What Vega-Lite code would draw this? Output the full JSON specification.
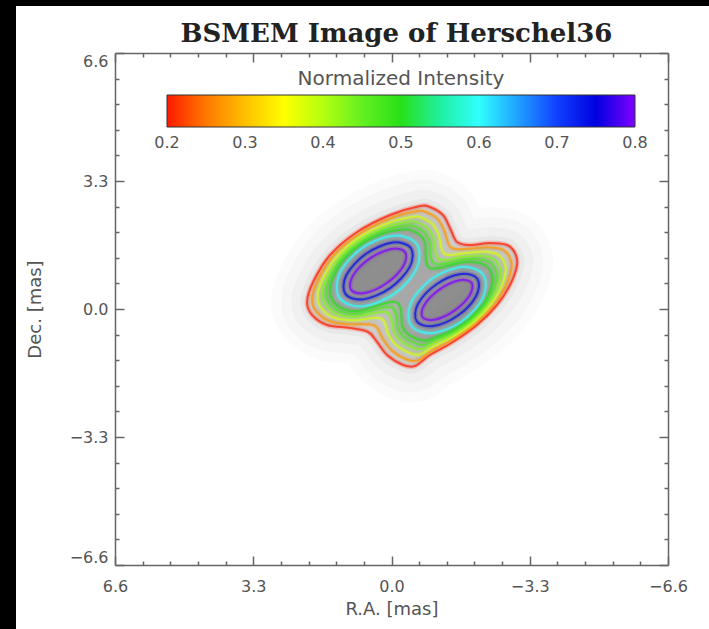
{
  "$schema": "https://vega.github.io/schema/vega-lite/v6.json",
  "width": 553,
  "height": 512,
  "autosize": {"type": "none"},
  "padding": {"left": 115, "top": 53, "right": 41, "bottom": 64},
  "background": "black",
  "title": {
    "text": "BSMEM Image of Herschel36",
    "frame": "group",
    "font": "DejaVu Serif",
    "fontSize": 26,
    "fontWeight": "bold",
    "color": "#222222",
    "anchor": "middle",
    "baseline": "alphabetic",
    "offset": 10,
    "dy": 72,
    "dx": 5
  },
  "datasets": {
    "contours": [
      {"c":"r","lv":0.2,"i":1,"x":-0.681,"y":2.655},{"c":"r","lv":0.2,"i":2,"x":-0.920,"y":2.630},{"c":"r","lv":0.2,"i":3,"x":-1.230,"y":2.423},{"c":"r","lv":0.2,"i":4,"x":-1.397,"y":2.088},
      {"c":"r","lv":0.2,"i":5,"x":-1.565,"y":1.727},{"c":"r","lv":0.2,"i":6,"x":-1.875,"y":1.650},{"c":"r","lv":0.2,"i":7,"x":-2.352,"y":1.702},{"c":"r","lv":0.2,"i":8,"x":-2.758,"y":1.650},
      {"c":"r","lv":0.2,"i":9,"x":-2.949,"y":1.444},{"c":"r","lv":0.2,"i":10,"x":-2.997,"y":1.134},{"c":"r","lv":0.2,"i":11,"x":-2.830,"y":0.619},{"c":"r","lv":0.2,"i":12,"x":-2.519,"y":0.103},
      {"c":"r","lv":0.2,"i":13,"x":-2.042,"y":-0.413},{"c":"r","lv":0.2,"i":14,"x":-1.469,"y":-0.851},{"c":"r","lv":0.2,"i":15,"x":-0.920,"y":-1.186},{"c":"r","lv":0.2,"i":16,"x":-0.562,"y":-1.470},
      {"c":"r","lv":0.2,"i":17,"x":-0.275,"y":-1.444},{"c":"r","lv":0.2,"i":18,"x":0.107,"y":-1.186},{"c":"r","lv":0.2,"i":19,"x":0.345,"y":-0.851},{"c":"r","lv":0.2,"i":20,"x":0.560,"y":-0.593},
      {"c":"r","lv":0.2,"i":21,"x":0.990,"y":-0.490},{"c":"r","lv":0.2,"i":22,"x":1.539,"y":-0.413},{"c":"r","lv":0.2,"i":23,"x":1.897,"y":-0.155},{"c":"r","lv":0.2,"i":24,"x":2.016,"y":0.180},
      {"c":"r","lv":0.2,"i":25,"x":1.873,"y":0.696},{"c":"r","lv":0.2,"i":26,"x":1.467,"y":1.392},{"c":"r","lv":0.2,"i":27,"x":0.823,"y":1.985},{"c":"r","lv":0.2,"i":28,"x":0.035,"y":2.423},

      {"c":"o","lv":0.27,"i":1,"x":-0.603,"y":2.524},{"c":"o","lv":0.27,"i":2,"x":-0.821,"y":2.500},{"c":"o","lv":0.27,"i":3,"x":-1.109,"y":2.311},{"c":"o","lv":0.27,"i":4,"x":-1.268,"y":2.005},
      {"c":"o","lv":0.27,"i":5,"x":-1.423,"y":1.582},{"c":"o","lv":0.27,"i":6,"x":-1.837,"y":1.553},{"c":"o","lv":0.27,"i":7,"x":-2.277,"y":1.594},{"c":"o","lv":0.27,"i":8,"x":-2.644,"y":1.537},
      {"c":"o","lv":0.27,"i":9,"x":-2.819,"y":1.349},{"c":"o","lv":0.27,"i":10,"x":-2.869,"y":1.065},{"c":"o","lv":0.27,"i":11,"x":-2.729,"y":0.594},{"c":"o","lv":0.27,"i":12,"x":-2.449,"y":0.110},
      {"c":"o","lv":0.27,"i":13,"x":-2.003,"y":-0.378},{"c":"o","lv":0.27,"i":14,"x":-1.461,"y":-0.788},{"c":"o","lv":0.27,"i":15,"x":-0.948,"y":-1.086},{"c":"o","lv":0.27,"i":16,"x":-0.627,"y":-1.325},
      {"c":"o","lv":0.27,"i":17,"x":-0.364,"y":-1.303},{"c":"o","lv":0.27,"i":18,"x":-0.007,"y":-1.073},{"c":"o","lv":0.27,"i":19,"x":0.213,"y":-0.765},{"c":"o","lv":0.27,"i":20,"x":0.414,"y":-0.426},
      {"c":"o","lv":0.27,"i":21,"x":0.947,"y":-0.395},{"c":"o","lv":0.27,"i":22,"x":1.459,"y":-0.321},{"c":"o","lv":0.27,"i":23,"x":1.788,"y":-0.077},{"c":"o","lv":0.27,"i":24,"x":1.897,"y":0.236},
      {"c":"o","lv":0.27,"i":25,"x":1.772,"y":0.714},{"c":"o","lv":0.27,"i":26,"x":1.395,"y":1.366},{"c":"o","lv":0.27,"i":27,"x":0.792,"y":1.923},{"c":"o","lv":0.27,"i":28,"x":0.055,"y":2.326},

      {"c":"y","lv":0.38,"i":1,"x":-0.517,"y":2.379},{"c":"y","lv":0.38,"i":2,"x":-0.711,"y":2.354},{"c":"y","lv":0.38,"i":3,"x":-0.975,"y":2.185},{"c":"y","lv":0.38,"i":4,"x":-1.124,"y":1.912},
      {"c":"y","lv":0.38,"i":5,"x":-1.264,"y":1.421},{"c":"y","lv":0.38,"i":6,"x":-1.795,"y":1.445},{"c":"y","lv":0.38,"i":7,"x":-2.192,"y":1.474},{"c":"y","lv":0.38,"i":8,"x":-2.516,"y":1.411},
      {"c":"y","lv":0.38,"i":9,"x":-2.674,"y":1.243},{"c":"y","lv":0.38,"i":10,"x":-2.726,"y":0.988},{"c":"y","lv":0.38,"i":11,"x":-2.617,"y":0.565},{"c":"y","lv":0.38,"i":12,"x":-2.370,"y":0.119},
      {"c":"y","lv":0.38,"i":13,"x":-1.958,"y":-0.340},{"c":"y","lv":0.38,"i":14,"x":-1.452,"y":-0.718},{"c":"y","lv":0.38,"i":15,"x":-0.980,"y":-0.974},{"c":"y","lv":0.38,"i":16,"x":-0.700,"y":-1.164},
      {"c":"y","lv":0.38,"i":17,"x":-0.463,"y":-1.145},{"c":"y","lv":0.38,"i":18,"x":-0.135,"y":-0.947},{"c":"y","lv":0.38,"i":19,"x":0.066,"y":-0.670},{"c":"y","lv":0.38,"i":20,"x":0.251,"y":-0.240},
      {"c":"y","lv":0.38,"i":21,"x":0.899,"y":-0.289},{"c":"y","lv":0.38,"i":22,"x":1.369,"y":-0.218},{"c":"y","lv":0.38,"i":23,"x":1.666,"y":0.011},{"c":"y","lv":0.38,"i":24,"x":1.764,"y":0.299},
      {"c":"y","lv":0.38,"i":25,"x":1.659,"y":0.735},{"c":"y","lv":0.38,"i":26,"x":1.314,"y":1.337},{"c":"y","lv":0.38,"i":27,"x":0.758,"y":1.853},{"c":"y","lv":0.38,"i":28,"x":0.076,"y":2.218},

      {"c":"g1","lv":0.43,"i":1,"x":-0.444,"y":2.256},{"c":"g1","lv":0.43,"i":2,"x":-0.618,"y":2.232},{"c":"g1","lv":0.43,"i":3,"x":-0.861,"y":2.080},{"c":"g1","lv":0.43,"i":4,"x":-1.002,"y":1.833},
      {"c":"g1","lv":0.43,"i":5,"x":-1.130,"y":1.284},{"c":"g1","lv":0.43,"i":6,"x":-1.760,"y":1.354},{"c":"g1","lv":0.43,"i":7,"x":-2.121,"y":1.372},{"c":"g1","lv":0.43,"i":8,"x":-2.409,"y":1.305},
      {"c":"g1","lv":0.43,"i":9,"x":-2.552,"y":1.153},{"c":"g1","lv":0.43,"i":10,"x":-2.606,"y":0.923},{"c":"g1","lv":0.43,"i":11,"x":-2.522,"y":0.541},{"c":"g1","lv":0.43,"i":12,"x":-2.304,"y":0.126},
      {"c":"g1","lv":0.43,"i":13,"x":-1.921,"y":-0.307},{"c":"g1","lv":0.43,"i":14,"x":-1.444,"y":-0.659},{"c":"g1","lv":0.43,"i":15,"x":-1.007,"y":-0.880},{"c":"g1","lv":0.43,"i":16,"x":-0.761,"y":-1.027},
      {"c":"g1","lv":0.43,"i":17,"x":-0.547,"y":-1.012},{"c":"g1","lv":0.43,"i":18,"x":-0.242,"y":-0.841},{"c":"g1","lv":0.43,"i":19,"x":-0.059,"y":-0.589},{"c":"g1","lv":0.43,"i":20,"x":0.113,"y":-0.083},
      {"c":"g1","lv":0.43,"i":21,"x":0.858,"y":-0.199},{"c":"g1","lv":0.43,"i":22,"x":1.293,"y":-0.132},{"c":"g1","lv":0.43,"i":23,"x":1.563,"y":0.085},{"c":"g1","lv":0.43,"i":24,"x":1.653,"y":0.352},
      {"c":"g1","lv":0.43,"i":25,"x":1.564,"y":0.752},{"c":"g1","lv":0.43,"i":26,"x":1.246,"y":1.313},{"c":"g1","lv":0.43,"i":27,"x":0.729,"y":1.795},{"c":"g1","lv":0.43,"i":28,"x":0.095,"y":2.127},

      {"c":"g2","lv":0.47,"i":1,"x":-0.385,"y":2.156},{"c":"g2","lv":0.47,"i":2,"x":-0.543,"y":2.132},{"c":"g2","lv":0.47,"i":3,"x":-0.769,"y":1.994},{"c":"g2","lv":0.47,"i":4,"x":-0.904,"y":1.770},
      {"c":"g2","lv":0.47,"i":5,"x":-1.022,"y":1.174},{"c":"g2","lv":0.47,"i":6,"x":-1.731,"y":1.280},{"c":"g2","lv":0.47,"i":7,"x":-2.063,"y":1.290},{"c":"g2","lv":0.47,"i":8,"x":-2.322,"y":1.219},
      {"c":"g2","lv":0.47,"i":9,"x":-2.452,"y":1.081},{"c":"g2","lv":0.47,"i":10,"x":-2.508,"y":0.871},{"c":"g2","lv":0.47,"i":11,"x":-2.445,"y":0.522},{"c":"g2","lv":0.47,"i":12,"x":-2.251,"y":0.132},
      {"c":"g2","lv":0.47,"i":13,"x":-1.891,"y":-0.280},{"c":"g2","lv":0.47,"i":14,"x":-1.438,"y":-0.611},{"c":"g2","lv":0.47,"i":15,"x":-1.029,"y":-0.804},{"c":"g2","lv":0.47,"i":16,"x":-0.810,"y":-0.917},
      {"c":"g2","lv":0.47,"i":17,"x":-0.615,"y":-0.905},{"c":"g2","lv":0.47,"i":18,"x":-0.329,"y":-0.755},{"c":"g2","lv":0.47,"i":19,"x":-0.159,"y":-0.524},{"c":"g2","lv":0.47,"i":20,"x":0.002,"y":0.044},
      {"c":"g2","lv":0.47,"i":21,"x":0.826,"y":-0.127},{"c":"g2","lv":0.47,"i":22,"x":1.232,"y":-0.061},{"c":"g2","lv":0.47,"i":23,"x":1.480,"y":0.145},{"c":"g2","lv":0.47,"i":24,"x":1.562,"y":0.395},
      {"c":"g2","lv":0.47,"i":25,"x":1.487,"y":0.766},{"c":"g2","lv":0.47,"i":26,"x":1.191,"y":1.293},{"c":"g2","lv":0.47,"i":27,"x":0.705,"y":1.747},{"c":"g2","lv":0.47,"i":28,"x":0.110,"y":2.053},

      {"c":"g3","lv":0.5,"i":1,"x":-0.325,"y":2.056},{"c":"g3","lv":0.5,"i":2,"x":-0.468,"y":2.033},{"c":"g3","lv":0.5,"i":3,"x":-0.677,"y":1.908},{"c":"g3","lv":0.5,"i":4,"x":-0.805,"y":1.706},
      {"c":"g3","lv":0.5,"i":5,"x":-0.913,"y":1.063},{"c":"g3","lv":0.5,"i":6,"x":-1.702,"y":1.205},{"c":"g3","lv":0.5,"i":7,"x":-2.006,"y":1.207},{"c":"g3","lv":0.5,"i":8,"x":-2.235,"y":1.133},
      {"c":"g3","lv":0.5,"i":9,"x":-2.353,"y":1.008},{"c":"g3","lv":0.5,"i":10,"x":-2.410,"y":0.818},{"c":"g3","lv":0.5,"i":11,"x":-2.368,"y":0.502},{"c":"g3","lv":0.5,"i":12,"x":-2.197,"y":0.137},
      {"c":"g3","lv":0.5,"i":13,"x":-1.861,"y":-0.254},{"c":"g3","lv":0.5,"i":14,"x":-1.432,"y":-0.563},{"c":"g3","lv":0.5,"i":15,"x":-1.050,"y":-0.727},{"c":"g3","lv":0.5,"i":16,"x":-0.860,"y":-0.806},
      {"c":"g3","lv":0.5,"i":17,"x":-0.683,"y":-0.797},{"c":"g3","lv":0.5,"i":18,"x":-0.416,"y":-0.669},{"c":"g3","lv":0.5,"i":19,"x":-0.260,"y":-0.459},{"c":"g3","lv":0.5,"i":20,"x":-0.110,"y":0.171},
      {"c":"g3","lv":0.5,"i":21,"x":0.793,"y":-0.054},{"c":"g3","lv":0.5,"i":22,"x":1.170,"y":0.009},{"c":"g3","lv":0.5,"i":23,"x":1.396,"y":0.205},{"c":"g3","lv":0.5,"i":24,"x":1.471,"y":0.437},
      {"c":"g3","lv":0.5,"i":25,"x":1.410,"y":0.780},{"c":"g3","lv":0.5,"i":26,"x":1.136,"y":1.273},{"c":"g3","lv":0.5,"i":27,"x":0.682,"y":1.700},{"c":"g3","lv":0.5,"i":28,"x":0.125,"y":1.978},

      {"c":"cL","lv":0.6,"i":1,"x":-0.599,"y":1.675},{"c":"cL","lv":0.6,"i":2,"x":-0.601,"y":1.053},{"c":"cL","lv":0.6,"i":3,"x":-0.063,"y":0.389},{"c":"cL","lv":0.6,"i":4,"x":0.699,"y":0.070},
      {"c":"cL","lv":0.6,"i":5,"x":1.239,"y":0.285},{"c":"cL","lv":0.6,"i":6,"x":1.241,"y":0.907},{"c":"cL","lv":0.6,"i":7,"x":0.703,"y":1.571},{"c":"cL","lv":0.6,"i":8,"x":-0.059,"y":1.890},
      {"c":"bL","lv":0.74,"i":1,"x":-0.462,"y":1.572},{"c":"bL","lv":0.74,"i":2,"x":-0.437,"y":1.085},{"c":"bL","lv":0.74,"i":3,"x":0.032,"y":0.537},{"c":"bL","lv":0.74,"i":4,"x":0.670,"y":0.248},
      {"c":"bL","lv":0.74,"i":5,"x":1.102,"y":0.389},{"c":"bL","lv":0.74,"i":6,"x":1.077,"y":0.875},{"c":"bL","lv":0.74,"i":7,"x":0.608,"y":1.424},{"c":"bL","lv":0.74,"i":8,"x":-0.030,"y":1.712},
      {"c":"pL","lv":0.8,"i":1,"x":-0.325,"y":1.468},{"c":"pL","lv":0.8,"i":2,"x":-0.282,"y":1.101},{"c":"pL","lv":0.8,"i":3,"x":0.115,"y":0.663},{"c":"pL","lv":0.8,"i":4,"x":0.631,"y":0.411},
      {"c":"pL","lv":0.8,"i":5,"x":0.965,"y":0.492},{"c":"pL","lv":0.8,"i":6,"x":0.922,"y":0.859},{"c":"pL","lv":0.8,"i":7,"x":0.525,"y":1.297},{"c":"pL","lv":0.8,"i":8,"x":0.009,"y":1.549},
      {"c":"cR","lv":0.6,"i":1,"x":-2.187,"y":0.883},{"c":"cR","lv":0.6,"i":2,"x":-2.186,"y":0.304},{"c":"cR","lv":0.6,"i":3,"x":-1.682,"y":-0.317},{"c":"cR","lv":0.6,"i":4,"x":-0.969,"y":-0.616},
      {"c":"cR","lv":0.6,"i":5,"x":-0.466,"y":-0.419},{"c":"cR","lv":0.6,"i":6,"x":-0.466,"y":0.160},{"c":"cR","lv":0.6,"i":7,"x":-0.970,"y":0.781},{"c":"cR","lv":0.6,"i":8,"x":-1.683,"y":1.080},
      {"c":"bR","lv":0.74,"i":1,"x":-2.050,"y":0.779},{"c":"bR","lv":0.74,"i":2,"x":-2.022,"y":0.335},{"c":"bR","lv":0.74,"i":3,"x":-1.586,"y":-0.169},{"c":"bR","lv":0.74,"i":4,"x":-0.998,"y":-0.439},
      {"c":"bR","lv":0.74,"i":5,"x":-0.602,"y":-0.315},{"c":"bR","lv":0.74,"i":6,"x":-0.630,"y":0.129},{"c":"bR","lv":0.74,"i":7,"x":-1.066,"y":0.633},{"c":"bR","lv":0.74,"i":8,"x":-1.654,"y":0.903},
      {"c":"pR","lv":0.8,"i":1,"x":-1.913,"y":0.676},{"c":"pR","lv":0.8,"i":2,"x":-1.867,"y":0.352},{"c":"pR","lv":0.8,"i":3,"x":-1.504,"y":-0.043},{"c":"pR","lv":0.8,"i":4,"x":-1.037,"y":-0.276},
      {"c":"pR","lv":0.8,"i":5,"x":-0.739,"y":-0.212},{"c":"pR","lv":0.8,"i":6,"x":-0.785,"y":0.112},{"c":"pR","lv":0.8,"i":7,"x":-1.148,"y":0.507},{"c":"pR","lv":0.8,"i":8,"x":-1.615,"y":0.740}
    ]
  },
  "data": {"name": "contours"},
  "layer": [
    {
      "data": {"values": [{}]},
      "mark": {"type": "rect", "fill": "white"},
      "encoding": {
        "x": {"datum": 8.963, "type": "quantitative", "scale": {"domain": [-6.6, 6.6], "reverse": true, "nice": false, "zero": false}, "axis": null},
        "x2": {"datum": -7.84},
        "y": {"datum": 7.811, "type": "quantitative", "scale": {"domain": [-6.6, 6.6], "nice": false, "zero": false}, "axis": null},
        "y2": {"datum": -8.53}
      }
    },
    {
      "transform": [{"filter": "datum.c === 'r'"}],
      "mark": {"type": "line", "interpolate": "cardinal-closed", "stroke": "black", "strokeWidth": 72, "strokeOpacity": 0.016, "strokeJoin": "round"},
      "encoding": {
        "x": {"field": "x", "type": "quantitative", "axis": {"zindex": 2, "orient": "bottom", "values": [6.6, 3.3, 0, -3.3, -6.6], "format": ".1f", "tickSize": -9, "labelPadding": 22, "labelFlush": false, "title": "R.A. [mas]", "titlePadding": 6}},
        "y": {"field": "y", "type": "quantitative", "axis": {"zindex": 2, "orient": "left", "values": [6.6, 3.3, 0, -3.3, -6.6], "format": ".1f", "tickSize": -9, "labelPadding": 16, "labelFlush": true, "title": "Dec. [mas]", "titlePadding": 25}},
        "detail": {"field": "c"},
        "order": {"field": "i", "type": "quantitative"}
      }
    },
    {
      "transform": [{"filter": "datum.c === 'r'"}],
      "mark": {"type": "line", "interpolate": "cardinal-closed", "stroke": "black", "strokeWidth": 52, "strokeOpacity": 0.02, "strokeJoin": "round"},
      "encoding": {
        "x": {"field": "x", "type": "quantitative", "axis": {"zindex": 2, "orient": "top", "values": [6.6, 3.3, 0, -3.3, -6.6], "tickSize": -9, "labels": false, "title": null}},
        "y": {"field": "y", "type": "quantitative", "axis": {"zindex": 2, "orient": "right", "values": [6.6, 3.3, 0, -3.3, -6.6], "tickSize": -9, "labels": false, "title": null}},
        "detail": {"field": "c"},
        "order": {"field": "i", "type": "quantitative"}
      }
    },
    {
      "transform": [{"filter": "datum.c === 'r'"}],
      "mark": {"type": "line", "interpolate": "cardinal-closed", "stroke": "black", "strokeWidth": 32, "strokeOpacity": 0.025, "strokeJoin": "round"},
      "encoding": {
        "x": {"field": "x", "type": "quantitative", "axis": {"zindex": 2, "orient": "bottom", "values": [5.94, 5.28, 4.62, 3.96, 2.64, 1.98, 1.32, 0.66, -0.66, -1.32, -1.98, -2.64, -3.96, -4.62, -5.28, -5.94], "tickSize": -4, "labels": false, "domain": false, "title": null}},
        "y": {"field": "y", "type": "quantitative", "axis": {"zindex": 2, "orient": "left", "values": [5.94, 5.28, 4.62, 3.96, 2.64, 1.98, 1.32, 0.66, -0.66, -1.32, -1.98, -2.64, -3.96, -4.62, -5.28, -5.94], "tickSize": -4, "labels": false, "domain": false, "title": null}},
        "detail": {"field": "c"},
        "order": {"field": "i", "type": "quantitative"}
      }
    },
    {
      "transform": [{"filter": "datum.c === 'r'"}],
      "mark": {"type": "line", "interpolate": "cardinal-closed", "stroke": "black", "strokeWidth": 14, "strokeOpacity": 0.03, "strokeJoin": "round"},
      "encoding": {
        "x": {"field": "x", "type": "quantitative", "axis": {"zindex": 2, "orient": "top", "values": [5.94, 5.28, 4.62, 3.96, 2.64, 1.98, 1.32, 0.66, -0.66, -1.32, -1.98, -2.64, -3.96, -4.62, -5.28, -5.94], "tickSize": -4, "labels": false, "domain": false, "title": null}},
        "y": {"field": "y", "type": "quantitative", "axis": {"zindex": 2, "orient": "right", "values": [5.94, 5.28, 4.62, 3.96, 2.64, 1.98, 1.32, 0.66, -0.66, -1.32, -1.98, -2.64, -3.96, -4.62, -5.28, -5.94], "tickSize": -4, "labels": false, "domain": false, "title": null}},
        "detail": {"field": "c"},
        "order": {"field": "i", "type": "quantitative"}
      }
    },
    {
      "mark": {"type": "line", "interpolate": "cardinal-closed", "fill": "black", "strokeWidth": 0, "strokeOpacity": 0},
      "encoding": {
        "x": {"field": "x", "type": "quantitative", "axis": null},
        "y": {"field": "y", "type": "quantitative", "axis": null},
        "detail": {"field": "c"},
        "order": {"field": "i", "type": "quantitative"},
        "fillOpacity": {"field": "lv", "type": "quantitative", "scale": {"type": "threshold", "domain": [0.22, 0.3], "range": [0.11, 0.08, 0.05]}, "legend": null}
      }
    },
    {
      "mark": {"type": "line", "interpolate": "cardinal-closed", "strokeWidth": 5, "strokeOpacity": 0.2},
      "encoding": {
        "x": {"field": "x", "type": "quantitative", "axis": null},
        "y": {"field": "y", "type": "quantitative", "axis": null},
        "detail": {"field": "c"},
        "order": {"field": "i", "type": "quantitative"},
        "color": {"field": "lv", "type": "quantitative"}
      }
    },
    {
      "mark": {"type": "line", "interpolate": "cardinal-closed", "strokeWidth": 2, "strokeOpacity": 0.72},
      "encoding": {
        "x": {"field": "x", "type": "quantitative", "axis": null},
        "y": {"field": "y", "type": "quantitative", "axis": null},
        "detail": {"field": "c"},
        "order": {"field": "i", "type": "quantitative"},
        "color": {
          "field": "lv",
          "type": "quantitative",
          "scale": {
            "type": "linear",
            "domain": [0.2, 0.25, 0.3, 0.35, 0.4, 0.45, 0.5, 0.55, 0.6, 0.65, 0.7, 0.75, 0.8],
            "range": ["#ff1a00", "#ff7800", "#ffc000", "#ffff00", "#b4ff10", "#64f020", "#28e018", "#20f0a0", "#30ffff", "#20a0ff", "#1040ff", "#0000e0", "#8000ff"],
            "interpolate": "rgb"
          },
          "legend": {
            "orient": "none",
            "legendX": 52,
            "legendY": 16,
            "direction": "horizontal",
            "title": "Normalized Intensity",
            "titleAnchor": "middle",
            "titleLimit": 600,
            "titleFont": "DejaVu Sans",
            "titleFontSize": 20,
            "titleFontWeight": "normal",
            "titleColor": "#555555",
            "titlePadding": 6,
            "gradientLength": 468,
            "gradientThickness": 32,
            "gradientStrokeColor": "#333333",
            "gradientStrokeWidth": 1,
            "values": [0.2, 0.3, 0.4, 0.5, 0.6, 0.7, 0.8],
            "format": ".1f",
            "labelFont": "DejaVu Sans",
            "labelFontSize": 16,
            "labelColor": "#555555",
            "labelOffset": 8,
            "labelOverlap": false,
            "padding": 0,
            "encode": {
              "labels": {"update": {"align": {"value": "center"}}},
              "gradient": {"update": {"opacity": {"value": 1}}}
            }
          }
        }
      }
    }
  ],
  "resolve": {"axis": {"x": "independent", "y": "independent"}},
  "config": {
    "view": {"stroke": null},
    "axis": {
      "grid": false,
      "domainColor": "#666666",
      "tickColor": "#666666",
      "domainWidth": 1.5,
      "tickWidth": 1.5,
      "labelFont": "DejaVu Sans",
      "labelFontSize": 16,
      "labelColor": "#555555",
      "titleFont": "DejaVu Sans",
      "titleFontSize": 18,
      "titleFontWeight": "normal",
      "titleColor": "#555555"
    }
  }
}
